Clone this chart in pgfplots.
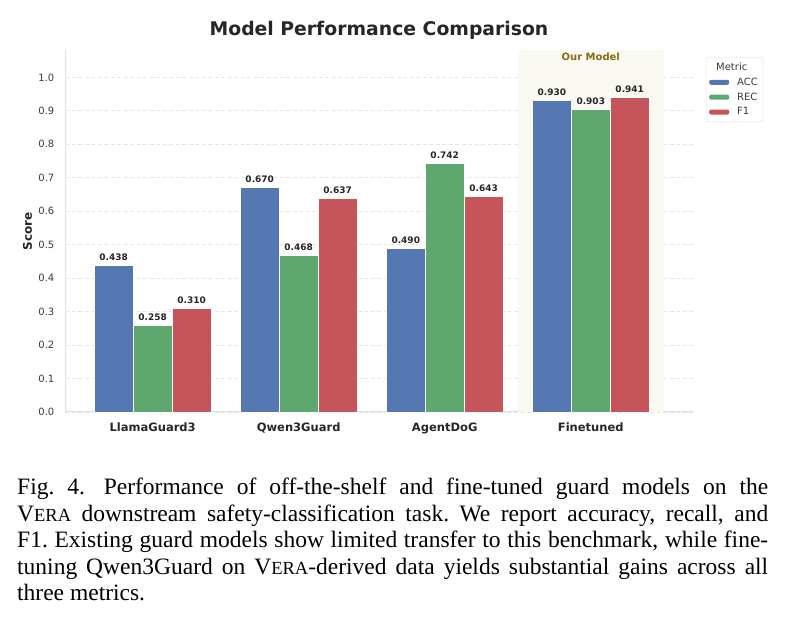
\documentclass[border=0pt]{standalone}
\usepackage{pgfplots}
\pgfplotsset{compat=1.18}
\usepackage{fontspec}
\setmainfont{DejaVu Sans}
\newfontfamily\capfont{Liberation Serif}
\definecolor{cacc}{HTML}{5577B1}
\definecolor{crec}{HTML}{5EA86F}
\definecolor{cf1}{HTML}{C5555A}
\definecolor{hl}{HTML}{FAF9F1}
\definecolor{gold}{HTML}{8B6914}
\definecolor{txt}{HTML}{262626}
\definecolor{tickc}{HTML}{3A3A3A}
\definecolor{spine}{HTML}{DDDDDD}
\definecolor{gridc}{HTML}{E6E6E6}
\pgfplotsset{
  mybar/.style={ybar, bar width=0.2667, bar shift=0pt, draw=white, line width=0.8pt,
    nodes near coords={\pgfmathprintnumber[fixed, fixed zerofill, precision=3, assume math mode=true]{\pgfplotspointmeta}},
    every node near coord/.append style={font=\bfseries\fontsize{9}{10}\selectfont, text=txt, anchor=base, yshift=5pt},
    legend image code/.code={\fill[##1,draw=none] (0pt,-2.5pt) rectangle (20pt,2.5pt); \path[draw=none,fill=none] (0pt,0pt) -- (26pt,0pt);}},
}
\begin{document}
\begin{tikzpicture}
\path[use as bounding box] (0,0) rectangle (786pt,623pt);
\node[anchor=base, font=\bfseries\fontsize{18.8}{21}\selectfont, text=txt] at (379pt,587pt) {Model Performance Comparison};
\begin{axis}[
  at={(65pt,211pt)}, anchor=south west,
  scale only axis, width=628pt, height=362pt,
  xmin=-0.6, xmax=3.7, ymin=0, ymax=1.082,
  axis x line*=bottom, axis y line*=left,
  axis line style={draw=spine, line width=1pt, -},
  major tick length=0pt,
  xtick={0,1,2,3}, xticklabels={LlamaGuard3,Qwen3Guard,AgentDoG,Finetuned},
  xticklabel style={font=\bfseries\fontsize{11.5}{13}\selectfont, text=txt, anchor=base, yshift=-20pt},
  ytick={0,0.1,0.2,0.3,0.4,0.5,0.6,0.7,0.8,0.9,1.0},
  yticklabel style={font=\fontsize{10}{12}\selectfont, text=tickc, anchor=east, inner sep=0pt, xshift=-10.5pt,
    /pgf/number format/fixed, /pgf/number format/fixed zerofill, /pgf/number format/precision=1, /pgf/number format/assume math mode=true},
  ylabel={Score},
  ylabel style={font=\bfseries\fontsize{12}{14}\selectfont, text=txt, at={([xshift=-37.5pt]axis description cs:0,0.5)}, anchor=center},
  ymajorgrids, grid style={dash pattern=on 4pt off 2.5pt, draw=gridc, line width=0.8pt},
  legend style={at={(1,1)}, anchor=north west, xshift=13pt, yshift=-7pt, draw=spine, fill=white, rounded corners=2pt,
    font=\fontsize{10}{12}\selectfont, text=tickc, inner xsep=3pt, inner ysep=3.5pt, row sep=2pt},
  legend cell align=left,
  clip=false,
]
\addplot[draw=none, fill=hl, forget plot] coordinates {(2.5,0) (2.5,1.082) (3.5,1.082) (3.5,0)} -- cycle;
\addlegendimage{empty legend}
\addlegendentry{\hspace{-21pt}Metric\rule[-2pt]{0pt}{2pt}}
\addplot[mybar, fill=cacc] coordinates {(-0.2667,0.438) (0.7333,0.670) (1.7333,0.490) (2.7333,0.930)};
\addlegendentry{ACC}
\addplot[mybar, fill=crec] coordinates {(0,0.258) (1,0.468) (2,0.742) (3,0.903)};
\addlegendentry{REC}
\addplot[mybar, fill=cf1] coordinates {(0.2667,0.310) (1.2667,0.637) (2.2667,0.643) (3.2667,0.941)};
\addlegendentry{F1}
\node[anchor=base, font=\bfseries\fontsize{10}{12}\selectfont, text=gold] at (axis cs:3,1.051) {Our Model};
\end{axis}
\node[anchor=base west, inner sep=0pt] at (17pt,128pt) {\parbox[t]{751pt}{\capfont\fontsize{23.5}{26.5}\selectfont\hyphenpenalty=10000\frenchspacing
Fig.~4.\hspace{0.25em} Performance of off-the-shelf and fine-tuned guard models on the\linebreak
V{\fontsize{18.5}{20}\selectfont ERA} downstream safety-classification task. We report accuracy, recall, and\linebreak
F1. Existing guard models show limited transfer to this benchmark, while fine-\linebreak
tuning Qwen3Guard on V{\fontsize{18.5}{20}\selectfont ERA}-derived data yields substantial gains across all\linebreak
three metrics.}};
\end{tikzpicture}
\end{document}
